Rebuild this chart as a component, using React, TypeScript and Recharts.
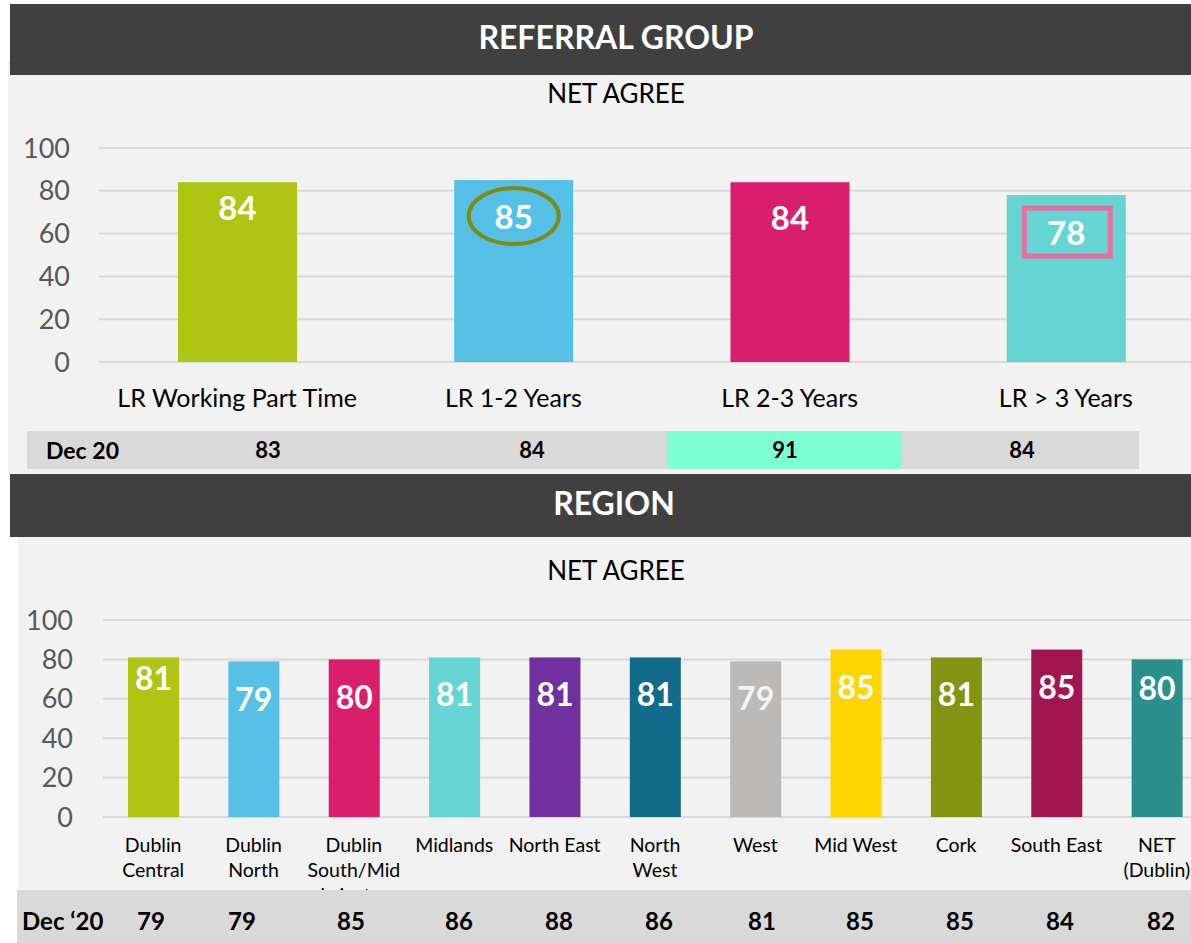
import { BarChart, Bar, XAxis, YAxis, CartesianGrid } from "recharts";

const referralGroups = ["LR Working Part Time", "LR 1-2 Years", "LR 2-3 Years", "LR > 3 Years"];
const referralNetAgree = [84, 85, 84, 78];
const referralDec20 = [83, 84, 91, 84];

const regions = [
  "Dublin\nCentral",
  "Dublin\nNorth",
  "Dublin\nSouth/Mid\nLeinster",
  "Midlands",
  "North East",
  "North\nWest",
  "West",
  "Mid West",
  "Cork",
  "South East",
  "NET\n(Dublin)",
];
const regionNetAgree = [81, 79, 80, 81, 81, 81, 79, 85, 81, 85, 80];
const regionDec20 = [79, 79, 85, 86, 88, 86, 81, 85, 85, 84, 82];

const yTicks = [0, 20, 40, 60, 80, 100];

// styling
const FONT = "Lato, 'Open Sans', sans-serif";
const DARK = "#404040";
const PANEL = "#f2f2f2";
const GRID = "#d9d9d9";
const TOP_COLORS = ["#b0c413", "#55c0e6", "#d81e6c", "#64d5d3"];
const REGION_COLORS = [
  "#b1c412", "#56c0e6", "#d81e6c", "#64d5d4", "#7030a0", "#136b8a",
  "#bbbab8", "#ffd500", "#839412", "#a11651", "#2a908d",
];
const TOP_LABEL_DY = [25, 36, 35, 37];
const REGION_LABEL_DY = [20, 37, 37, 36, 36, 36, 36, 37, 36, 37, 28];
const TOP_TABLE_X = [268, 532, 785, 1022];
const REGION_TABLE_X = [151, 242, 351, 459, 559, 659, 762, 860, 960, 1060, 1161];

const topData = referralGroups.map((name, i) => ({ name, value: referralNetAgree[i] }));
const regionData = regions.map((name, i) => ({ name, value: regionNetAgree[i] }));

const TopBarShape = (props: any) => {
  const { x, y, width, height, index, payload } = props;
  const cx = x + width / 2;
  const ly = y + TOP_LABEL_DY[index];
  return (
    <g>
      <rect x={x} y={y} width={width} height={height} fill={TOP_COLORS[index]} />
      {index === 1 && (
        <ellipse cx={cx} cy={ly} rx={45} ry={28} fill="none" stroke="#7f8a12" strokeWidth={4} />
      )}
      {index === 3 && (
        <rect x={cx - 42} y={ly - 24} width={86} height={48} fill="none" stroke="#ea6ca2" strokeWidth={5} />
      )}
      <text
        x={cx}
        y={ly}
        textAnchor="middle"
        dominantBaseline="central"
        fill="#fff"
        fontWeight={700}
        fontSize={33}
        fontFamily={FONT}
      >
        {payload.value}
      </text>
    </g>
  );
};

const RegionBarShape = (props: any) => {
  const { x, y, width, height, index, payload } = props;
  return (
    <g>
      <rect x={x} y={y} width={width} height={height} fill={REGION_COLORS[index]} />
      <text
        x={x + width / 2}
        y={y + REGION_LABEL_DY[index]}
        textAnchor="middle"
        dominantBaseline="central"
        fill={index === 6 ? "#f4f4f4" : "#fff"}
        fontWeight={700}
        fontSize={32}
        fontFamily={FONT}
      >
        {payload.value}
      </text>
    </g>
  );
};

const TopTick = (props: any) => {
  const { x, y, payload } = props;
  return (
    <text x={x} y={y} dy="0.71em" textAnchor="middle" fontSize={25} fontFamily={FONT} fill="#000">
      {payload.value}
    </text>
  );
};

const RegionTick = (props: any) => {
  const { x, y, payload } = props;
  const lines = String(payload.value).split("\n");
  return (
    <text x={x} y={y} textAnchor="middle" fontSize={19.5} fontFamily={FONT} fill="#000">
      {lines.map((l, i) => (
        <tspan key={i} x={x} dy={i === 0 ? "0.71em" : 25}>
          {l}
        </tspan>
      ))}
    </text>
  );
};

const abs = (s: any) => ({ position: "absolute" as const, ...s });

export default function App() {
  return (
    <div
      style={abs({
        left: 0,
        top: 0,
        width: 1191,
        height: 943,
        overflow: "hidden",
        background: "#fff",
        fontFamily: FONT,
      })}
    >
      {/* panels */}
      <div style={abs({ left: 8, top: 62, width: 1183, height: 418, background: PANEL })} />
      <div style={abs({ left: 18, top: 537, width: 1173, height: 353, background: PANEL })} />

      {/* headers */}
      <div
        style={abs({
          left: 10, top: 4, width: 1212, height: 71, background: DARK, color: "#fff",
          fontWeight: 700, fontSize: 32, textAlign: "center", lineHeight: "66px",
        })}
      >
        REFERRAL GROUP
      </div>
      <div style={abs({ left: 0, top: 77, width: 1232, textAlign: "center", fontSize: 26, lineHeight: "32px" })}>
        NET AGREE
      </div>
      <div
        style={abs({
          left: 10, top: 474, width: 1208, height: 63, background: DARK, color: "#fff",
          fontWeight: 700, fontSize: 32, textAlign: "center", lineHeight: "58px",
        })}
      >
        REGION
      </div>
      <div style={abs({ left: 0, top: 554, width: 1232, textAlign: "center", fontSize: 26, lineHeight: "32px" })}>
        NET AGREE
      </div>

      {/* referral chart */}
      <div style={abs({ left: 0, top: 130 })}>
        <BarChart width={1204} height={292} data={topData} margin={{ top: 18, right: 0, bottom: 0, left: 0 }}>
          <CartesianGrid horizontal vertical={false} stroke={GRID} strokeWidth={2} />
          <XAxis
            dataKey="name"
            height={60}
            axisLine={false}
            tickLine={false}
            tickSize={0}
            tickMargin={27}
            interval={0}
            tick={<TopTick />}
          />
          <YAxis
            width={99}
            domain={[0, 100]}
            ticks={yTicks}
            axisLine={false}
            tickLine={false}
            tickSize={0}
            tickMargin={29}
            tick={{ fill: "#595959", fontSize: 27, fontFamily: FONT }}
          />
          <Bar dataKey="value" barSize={119} shape={<TopBarShape />} isAnimationActive={false} />
        </BarChart>
      </div>

      {/* referral table */}
      <div style={abs({ left: 27, top: 431, width: 1112, height: 38, background: GRID })} />
      <div style={abs({ left: 667, top: 431, width: 235, height: 38, background: "#7fffd4" })} />
      <div style={abs({ left: 46, top: 431, lineHeight: "38px", fontSize: 23, fontWeight: 700 })}>Dec 20</div>
      {referralDec20.map((v, i) => (
        <div
          key={i}
          style={abs({
            left: TOP_TABLE_X[i] - 40, top: 431, width: 80, textAlign: "center",
            lineHeight: "38px", fontSize: 22, fontWeight: 700,
          })}
        >
          {v}
        </div>
      ))}

      {/* region chart */}
      <div style={abs({ left: 0, top: 600 })}>
        <BarChart width={1207} height={297} data={regionData} margin={{ top: 20, right: 0, bottom: 0, left: 0 }}>
          <CartesianGrid horizontal vertical={false} stroke={GRID} strokeWidth={2} />
          <XAxis
            dataKey="name"
            height={80}
            axisLine={false}
            tickLine={false}
            tickSize={0}
            tickMargin={21}
            interval={0}
            tick={<RegionTick />}
          />
          <YAxis
            width={103}
            domain={[0, 100]}
            ticks={yTicks}
            axisLine={false}
            tickLine={false}
            tickSize={0}
            tickMargin={30}
            tick={{ fill: "#595959", fontSize: 27, fontFamily: FONT }}
          />
          <Bar dataKey="value" barSize={51} shape={<RegionBarShape />} isAnimationActive={false} />
        </BarChart>
      </div>

      {/* region table */}
      <div style={abs({ left: 17, top: 890, width: 1174, height: 53, background: GRID })} />
      <div style={abs({ left: 22, top: 903, lineHeight: "36px", fontSize: 24, fontWeight: 700 })}>Dec ‘20</div>
      {regionDec20.map((v, i) => (
        <div
          key={i}
          style={abs({
            left: REGION_TABLE_X[i] - 40, top: 903, width: 80, textAlign: "center",
            lineHeight: "36px", fontSize: 24, fontWeight: 700,
          })}
        >
          {v}
        </div>
      ))}
    </div>
  );
}
